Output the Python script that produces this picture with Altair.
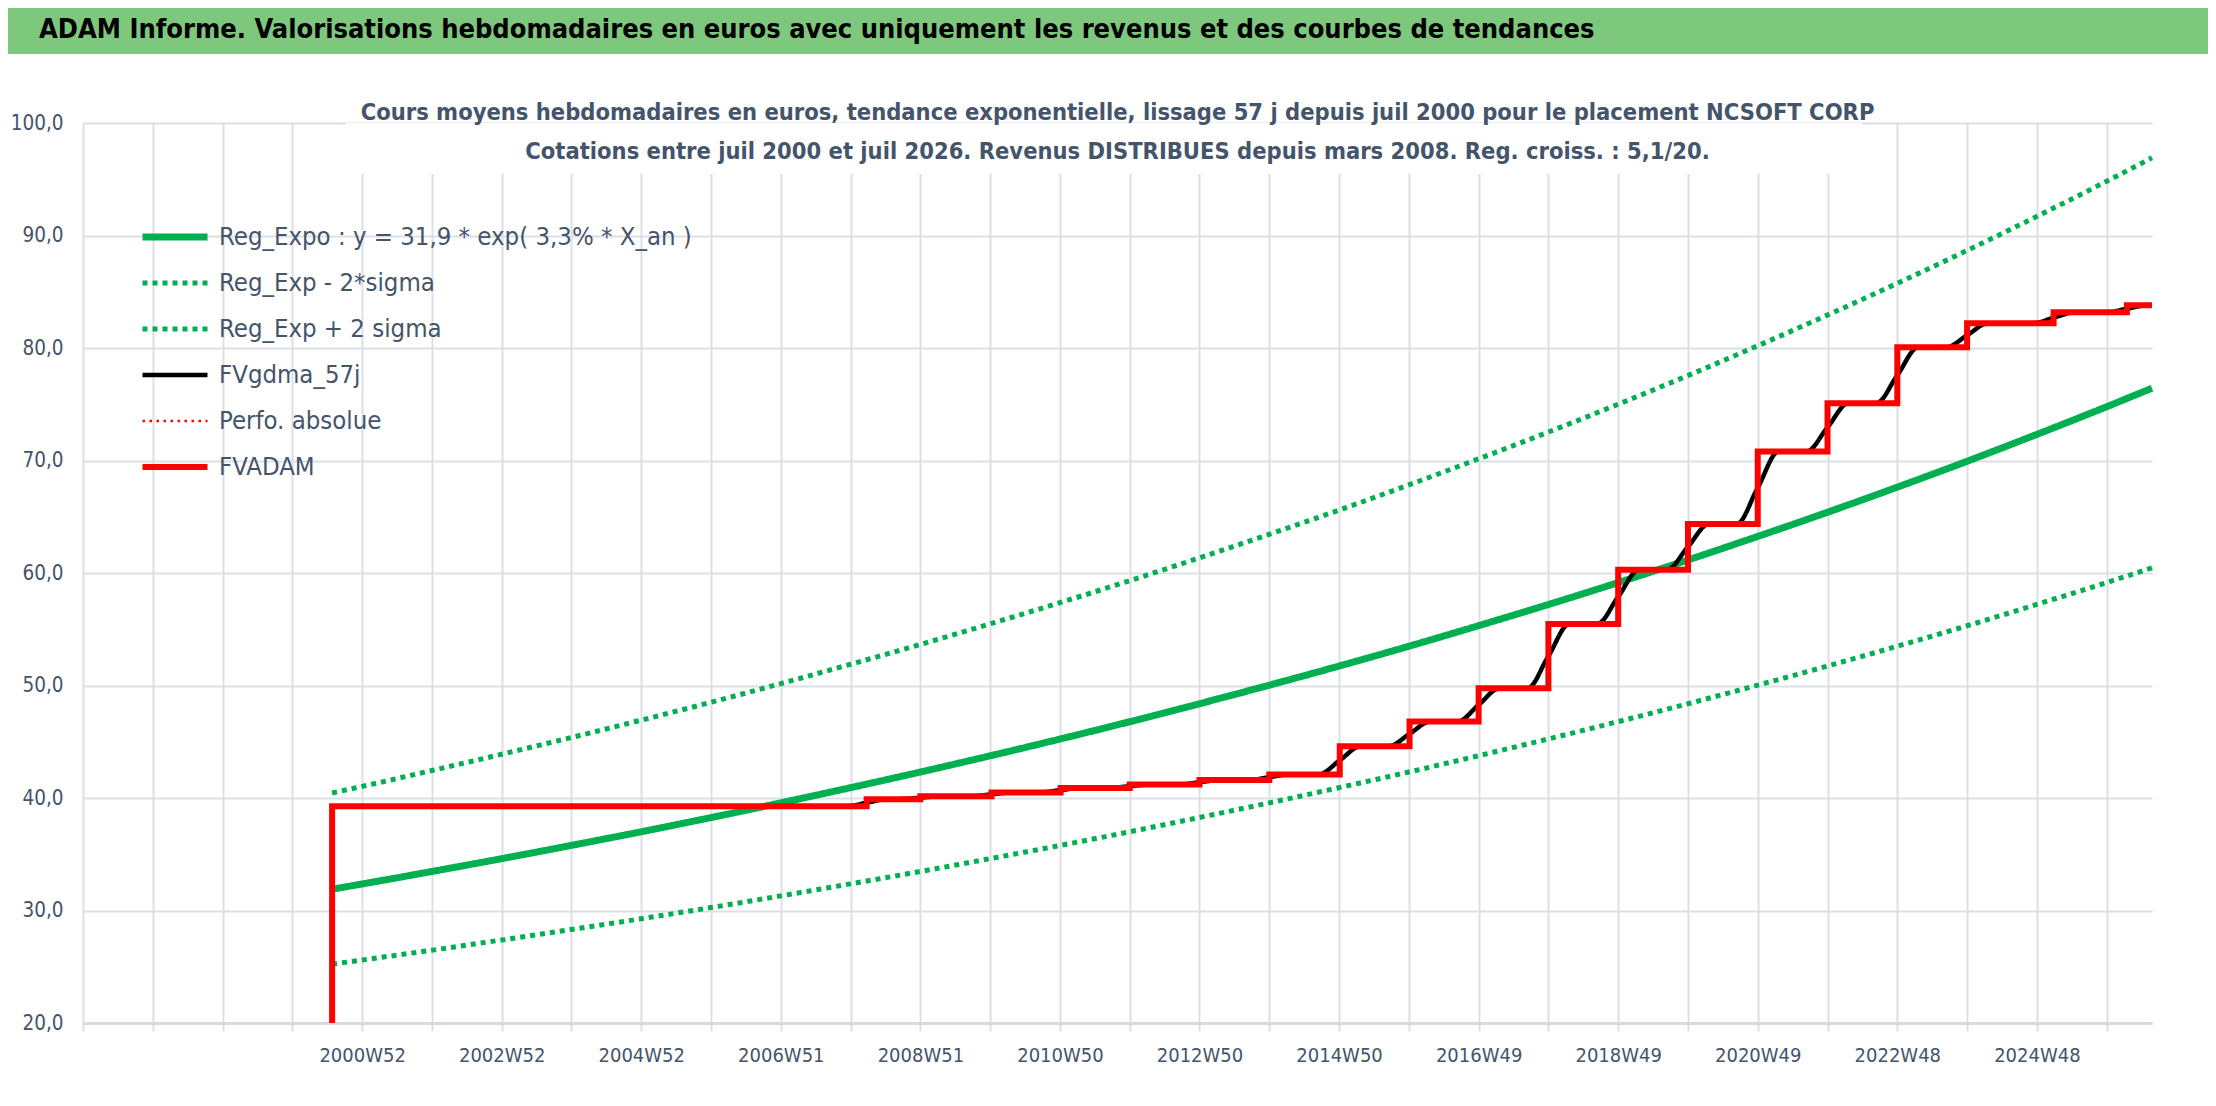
import json
import altair as alt
import pandas as pd

# ---------------- texts ----------------
BANNER = "ADAM Informe. Valorisations hebdomadaires en euros avec uniquement les revenus et des courbes de tendances"
SUB1 = "Cours moyens hebdomadaires en euros, tendance exponentielle, lissage 57 j depuis juil 2000 pour le placement NCSOFT CORP"
SUB2 = "Cotations entre juil 2000 et juil 2026. Revenus DISTRIBUES depuis mars 2008. Reg. croiss. : 5,1/20."

SERIES = [
    "Reg_Expo : y = 31,9 * exp( 3,3% *  X_an )",
    "Reg_Exp - 2*sigma",
    "Reg_Exp + 2 sigma",
    "FVgdma_57j",
    "Perfo. absolue",
    "FVADAM",
]

# ---------------- data ----------------
# time in decimal years
T_REG = [2000.57, 2001, 2002, 2003, 2004, 2005, 2006, 2007, 2008, 2009, 2010,
         2011, 2012, 2013, 2014, 2015, 2016, 2017, 2018, 2019, 2020, 2021,
         2022, 2023, 2024, 2025, 2026, 2026.65]
REG_MAIN = [31.90, 32.36, 33.47, 34.61, 35.79, 37.00, 38.26, 39.57, 40.92, 42.31,
            43.75, 45.24, 46.78, 48.38, 50.03, 51.73, 53.49, 55.32, 57.20, 59.15,
            61.16, 63.25, 65.40, 67.63, 69.93, 72.32, 74.78, 76.43]
REG_LOW = [25.23, 25.60, 26.47, 27.38, 28.31, 29.27, 30.26, 31.30, 32.37, 33.47,
           34.61, 35.78, 37.00, 38.27, 39.57, 40.92, 42.31, 43.76, 45.25, 46.79,
           48.38, 50.03, 51.73, 53.49, 55.31, 57.21, 59.15, 60.46]
REG_HIGH = [40.45, 41.03, 42.44, 43.89, 45.38, 46.92, 48.51, 50.17, 51.89, 53.65,
            55.48, 57.36, 59.32, 61.35, 63.44, 65.59, 67.83, 70.15, 72.53, 75.00,
            77.55, 80.20, 82.93, 85.75, 88.67, 91.70, 94.82, 96.91]

# FVADAM steps (value holds from each date to the next)
RED_T = [2000.57, 2000.57, 2008.23, 2009.0, 2010.02, 2011.01, 2012.0, 2013.0,
         2014.0, 2015.01, 2016.01, 2017.0, 2018.0, 2019.0, 2020.0, 2021.0,
         2022.0, 2023.0, 2024.0, 2025.24, 2026.29, 2026.65]
RED_V = [20.0, 39.26, 39.9, 40.15, 40.5, 40.9, 41.2, 41.6, 42.1, 44.6, 46.8,
         49.75, 55.47, 60.3, 64.36, 70.8, 75.1, 80.06, 82.2, 83.17, 83.8, 83.8]

# FVgdma_57j smoothed curve
BLACK_T = [2000.57, 2007.93, 2008.23, 2008.53, 2008.7, 2009.0, 2009.3, 2009.72,
           2010.02, 2010.32, 2010.71, 2011.01, 2011.31, 2011.7, 2012.0, 2012.3,
           2012.7, 2013.0, 2013.3, 2013.7, 2014.0, 2014.3, 2014.71, 2015.01,
           2015.31, 2015.71, 2016.01, 2016.31, 2016.7, 2017.0, 2017.3, 2017.7,
           2018.0, 2018.3, 2018.7, 2019.0, 2019.3, 2019.7, 2020.0, 2020.3,
           2020.7, 2021.0, 2021.3, 2021.7, 2022.0, 2022.3, 2022.7, 2023.0,
           2023.3, 2023.7, 2024.0, 2024.3, 2024.94, 2025.24, 2025.54, 2025.99,
           2026.29, 2026.59, 2026.65]
BLACK_V = [39.26, 39.26, 39.58, 39.9, 39.9, 40.03, 40.15, 40.15,
           40.33, 40.5, 40.5, 40.7, 40.9, 40.9, 41.05, 41.2,
           41.2, 41.4, 41.6, 41.6, 41.85, 42.1, 42.1, 43.35,
           44.6, 44.6, 45.7, 46.8, 46.8, 48.28, 49.75, 49.75,
           52.61, 55.47, 55.47, 57.89, 60.3, 60.3, 62.33, 64.36,
           64.36, 67.58, 70.8, 70.8, 72.95, 75.1, 75.1, 77.58,
           80.06, 80.06, 81.13, 82.2, 82.2, 82.69, 83.17, 83.17,
           83.49, 83.8, 83.8]

# axis
TICK_YEARS = list(range(1997, 2027))
TICK_LABELS = ["2000W52", "2002W52", "2004W52", "2006W51", "2008W51", "2010W50",
               "2012W50", "2014W50", "2016W49", "2018W49", "2020W49", "2022W48",
               "2024W48"]
FIRST_LABEL_YEAR = 2001
Y_TICKS = [20, 30, 40, 50, 60, 70, 80, 90, 100]

# ---------------- styles ----------------
FONT = "Liberation Sans Narrow, DejaVu Sans Condensed, Roboto, sans-serif"
TXT = "#44546a"
GRID = "#dcdfe5"
COLORS = ["#00b050", "#00b050", "#00b050", "#000000", "#ff0000", "#ff0000"]
DASHES = [[1, 0], [5, 5], [5, 5], [1, 0], [2.5, 4.5], [1, 0]]
WIDTHS = [7, 5, 5, 4.5, 2.5, 6]
PLOT_W, PLOT_H = 2069, 900

# ---------------- tables ----------------
green_df = pd.concat([
    pd.DataFrame({"t": T_REG, "v": REG_MAIN, "serie": SERIES[0]}),
    pd.DataFrame({"t": T_REG, "v": REG_LOW, "serie": SERIES[1]}),
    pd.DataFrame({"t": T_REG, "v": REG_HIGH, "serie": SERIES[2]}),
], ignore_index=True)
black_df = pd.DataFrame({"t": BLACK_T, "v": BLACK_V, "serie": SERIES[3]})
black_df["i"] = range(len(black_df))
red_df = pd.DataFrame({"t": RED_T, "v": RED_V, "serie": SERIES[5]})
red_df["i"] = range(len(red_df))

label_expr = (
    f"datum.value >= {FIRST_LABEL_YEAR} && (datum.value - {FIRST_LABEL_YEAR}) % 2 == 0 ? "
    + json.dumps(TICK_LABELS)
    + f"[(datum.value - {FIRST_LABEL_YEAR}) / 2] : ''"
)

x_enc = alt.X(
    "t:Q",
    scale=alt.Scale(domain=[1997, 2026.65], nice=False, zero=False),
    axis=alt.Axis(
        values=TICK_YEARS, labelExpr=label_expr, title=None,
        grid=True, gridColor=GRID, gridWidth=2,
        ticks=True, tickSize=8, tickColor=GRID, tickWidth=2,
        domain=True, domainColor="#d6d9de", domainWidth=3,
        labelFont=FONT, labelFontSize=20, labelColor=TXT, labelPadding=14,
        labelOverlap=False, labelFlush=False,
    ),
)
y_enc = alt.Y(
    "v:Q",
    scale=alt.Scale(domain=[20, 100], nice=False, zero=False),
    axis=alt.Axis(
        values=Y_TICKS, labelExpr="replace(format(datum.value, '.1f'), '.', ',')",
        title=None, grid=True, gridColor=GRID, gridWidth=2,
        domain=False, ticks=False,
        labelFont=FONT, labelFontSize=20.5, labelColor=TXT, labelPadding=20,
        minExtent=75,
    ),
)

legend = alt.Legend(
    title=None, orient="none", legendX=56, legendY=91,
    symbolType="stroke", symbolSize=4225, clipHeight=46, rowPadding=0,
    labelFont=FONT, labelFontSize=25.5, labelColor=TXT, labelOffset=8,
    labelLimit=900, padding=0,
)
color_enc = alt.Color("serie:N", scale=alt.Scale(domain=SERIES, range=COLORS), legend=legend)
dash_enc = alt.StrokeDash("serie:N", scale=alt.Scale(domain=SERIES, range=DASHES), legend=legend)
width_enc = alt.StrokeWidth("serie:N", scale=alt.Scale(type="ordinal", domain=SERIES, range=WIDTHS),
                            legend=legend)

# white box behind the subtitle (hides the gridlines there, as in the original)
mask = alt.Chart(pd.DataFrame({"k": [0]})).mark_rect(color="white").encode(
    x=alt.value(263), x2=alt.value(1779), y=alt.value(0), y2=alt.value(51)
)

green = alt.Chart(green_df).mark_line(interpolate="monotone").encode(
    x=x_enc, y=y_enc, color=color_enc, strokeDash=dash_enc, strokeWidth=width_enc
)
black = alt.Chart(black_df).mark_line(interpolate="monotone").encode(
    x=x_enc, y=y_enc, color=color_enc, strokeDash=dash_enc, strokeWidth=width_enc,
    order="i:Q"
)
red = alt.Chart(red_df).mark_line(interpolate="step-after").encode(
    x=x_enc, y=y_enc, color=color_enc, strokeDash=dash_enc, strokeWidth=width_enc,
    order="i:Q"
)

main = alt.layer(mask, green, black, red).properties(
    width=PLOT_W, height=PLOT_H,
    title=alt.TitleParams(
        text=[SUB1, SUB2], font=FONT, fontSize=23.5, fontWeight="bold", color=TXT,
        anchor="middle", offset=-50, lineHeight=39, zindex=1,
    ),
)

# green header band
band_base = alt.Chart(pd.DataFrame({"txt": [BANNER]}))
band_rect = band_base.mark_rect(color="#7ec87e").encode(
    x=alt.value(-75), x2=alt.value(2125), y=alt.value(0), y2=alt.value(46)
)
band_text = band_base.mark_text(
    align="left", baseline="middle", font=FONT, fontSize=27, fontWeight="bold", color="black"
).encode(x=alt.value(-44), y=alt.value(22), text="txt:N")
banner = alt.layer(band_rect, band_text).properties(width=PLOT_W, height=46)

chart = alt.vconcat(banner, main, spacing=46).resolve_scale(
    color="independent", strokeDash="independent", strokeWidth="independent"
).resolve_legend(
    color="independent", strokeDash="independent", strokeWidth="independent"
).properties(padding=0, background="white").configure_view(strokeWidth=0)

chart.save("out.html", embed_options={"renderer": "svg", "actions": False})
